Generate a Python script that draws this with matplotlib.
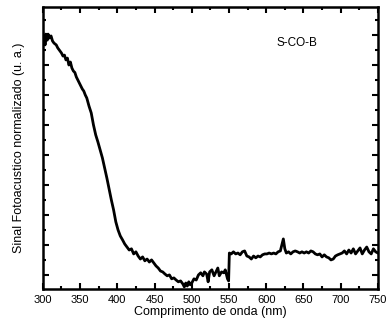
import matplotlib
matplotlib.use("Agg")
import matplotlib.pyplot as plt
from matplotlib.ticker import MultipleLocator

plt.rcParams['font.family'] = ['Liberation Sans', 'DejaVu Sans']

# wavelength (nm) and normalized photoacoustic signal
wavelength = [300, 301, 302, 303, 304, 306, 307, 309, 311, 313, 315, 318, 320, 322, 325,
              327, 329, 331, 333, 335, 337, 339, 341, 343, 345, 347, 349, 351, 353, 355,
              357, 359, 362, 365, 368, 371, 374, 377, 380, 383, 386, 389, 392, 395,
              398, 401, 404, 407, 410, 413, 416, 419, 422, 425, 428, 431, 434, 437, 440,
              443, 446, 449, 452, 455, 458, 461, 464, 467, 470, 473, 476, 479, 482, 485,
              488, 490, 492, 494, 496, 498, 500, 503, 506, 509, 512, 515, 517, 520, 522,
              524, 527, 530, 533, 535, 537, 540, 543, 545, 548, 549.5, 550.5, 553, 556, 559,
              562, 565, 568, 571, 574, 577, 580, 583, 586, 589, 592, 595, 598, 601, 604,
              607, 610, 613, 616, 619, 621, 623, 625, 627, 630, 633, 636, 639, 642, 645,
              648, 651, 654, 657, 660, 663, 666, 669, 672, 675, 678, 681, 684, 687, 690,
              693, 696, 699, 702, 705, 708, 711, 714, 717, 720, 723, 726, 729, 732, 735,
              738, 741, 744, 747, 750]
signal = [0.907, 0.883, 0.897, 0.867, 0.903, 0.883, 0.903, 0.89, 0.897, 0.88, 0.873, 0.867, 0.857, 0.85, 0.84,
          0.83, 0.833, 0.817, 0.823, 0.80, 0.81, 0.79, 0.78, 0.775, 0.76, 0.75, 0.74, 0.73, 0.72, 0.713,
          0.70, 0.69, 0.663, 0.64, 0.60, 0.567, 0.543, 0.517, 0.49, 0.457, 0.423, 0.387, 0.35, 0.317,
          0.277, 0.25, 0.23, 0.217, 0.203, 0.193, 0.183, 0.187, 0.17, 0.177, 0.163, 0.153, 0.16, 0.147, 0.153,
          0.143, 0.15, 0.14, 0.13, 0.123, 0.113, 0.11, 0.103, 0.097, 0.10, 0.087, 0.09, 0.083, 0.077, 0.08,
          0.07, 0.06, 0.073, 0.063, 0.077, 0.067, 0.073, 0.087, 0.083, 0.10, 0.107, 0.097, 0.11, 0.103, 0.077,
          0.11, 0.117, 0.097, 0.113, 0.123, 0.097, 0.11, 0.107, 0.117, 0.087, 0.08, 0.173, 0.17, 0.177, 0.17,
          0.173, 0.167, 0.177, 0.18, 0.163, 0.16, 0.153, 0.163, 0.157, 0.163, 0.16, 0.167, 0.17, 0.17, 0.173,
          0.17, 0.173, 0.17, 0.177, 0.18, 0.20, 0.22, 0.187, 0.173, 0.177, 0.17, 0.177, 0.18, 0.177, 0.173,
          0.177, 0.173, 0.177, 0.173, 0.18, 0.177, 0.17, 0.167, 0.17, 0.16, 0.167, 0.16, 0.157, 0.15, 0.153,
          0.163, 0.167, 0.17, 0.173, 0.18, 0.17, 0.183, 0.173, 0.187, 0.17, 0.18, 0.19, 0.17, 0.183, 0.193,
          0.177, 0.17, 0.187, 0.177, 0.173]

xticks = [300, 350, 400, 450, 500, 550, 600, 650, 700, 750]

fig = plt.figure(figsize=(3.86, 3.24), dpi=100)
ax = fig.add_axes([0.111, 0.108, 0.868, 0.870])

ax.plot(wavelength, signal, color='black', lw=2.0)

ax.set_xlim(300, 750)
ax.set_ylim(0.053, 0.993)
ax.set_xticks(xticks)
ax.xaxis.set_minor_locator(MultipleLocator(25))
ax.yaxis.set_major_locator(MultipleLocator(0.1))
ax.yaxis.set_minor_locator(MultipleLocator(0.05))
ax.set_yticklabels([])
ax.tick_params(which='both', direction='in', top=True, right=True, width=1.5,
               labelsize=8, pad=4)
ax.tick_params(which='major', length=4)
ax.tick_params(which='minor', length=2)
for sp in ax.spines.values():
    sp.set_linewidth(1.8)

ax.set_xlabel('Comprimento de onda (nm)', fontsize=9, labelpad=1)
ax.set_ylabel('Sinal Fotoacustico normalizado (u. a.)', fontsize=9, labelpad=9)
ax.text(0.758, 0.872, 'S-CO-B', transform=ax.transAxes, fontsize=8.5,
        ha='center', va='center')

fig.savefig('out.png', dpi=100)
